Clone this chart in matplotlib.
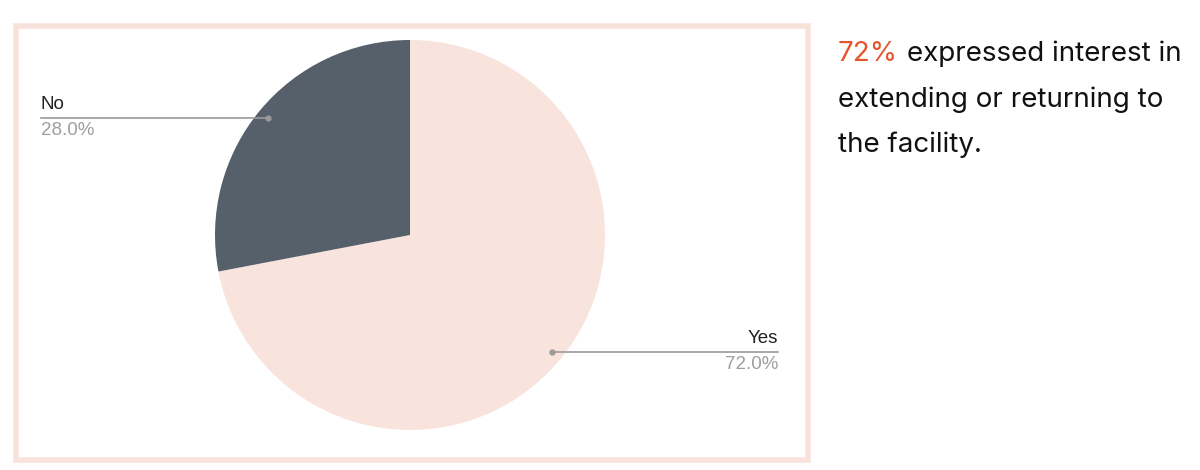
import numpy as np
import matplotlib.pyplot as plt
from matplotlib.patches import Rectangle

labels = ["Yes", "No"]
shares = [72.0, 28.0]
colors = ["#F8E3DD", "#56606B"]
headline = "72%"
caption = ["expressed interest in", "extending or returning to", "the facility."]

fig = plt.figure(figsize=(12, 4.7), dpi=100)
ax = fig.add_axes([0, 0, 1, 1])

# frame around the chart
ax.add_patch(Rectangle((15.5, 10.5), 792, 434, fill=False, ec="#F8E2DB", lw=4))

cx, cy, r = 410, 235, 195
wedges, _ = ax.pie(shares, colors=colors, startangle=90, counterclock=False,
                   center=(cx, cy), radius=r, frame=True)
ax.set_xlim(0, 1200)
ax.set_ylim(0, 470)
ax.set_aspect("equal")
ax.axis("off")

# leader lines + labels
start = 90
for lab, val in zip(labels, shares):
    mid = start - val * 3.6 / 2
    start -= val * 3.6
    a = np.deg2rad(mid)
    px = cx + 0.945 * r * np.cos(a)
    py = cy + 0.945 * r * np.sin(a)
    if np.cos(a) >= 0:
        ex, ha = 778, "right"
    else:
        ex, ha = 41, "left"
    ax.plot([px, ex], [py, py], color="#9A9A9A", lw=1.2)
    ax.plot(px, py, "o", color="#9A9A9A", ms=3.5)
    ax.text(ex, py + 5, lab, ha=ha, va="bottom", fontsize=13.5,
            family="Liberation Sans", color="#222222")
    ax.text(ex, py - 4, f"{val:.1f}%", ha=ha, va="top", fontsize=13.5,
            family="Liberation Sans", color="#9E9E9E")

# side note
fs = 20
t = ax.text(838, 416, headline, ha="left", va="center", fontsize=fs,
            family="Inter", color="#E5542C")
fig.canvas.draw()
bb = t.get_window_extent()
x2 = ax.transData.inverted().transform((bb.x1, bb.y0))[0]
ax.text(x2 + 9, 416, caption[0], ha="left", va="center", fontsize=fs,
        family="Inter", color="#111111")
ax.text(838, 370, caption[1], ha="left", va="center", fontsize=fs,
        family="Inter", color="#111111")
ax.text(838, 325, caption[2], ha="left", va="center", fontsize=fs,
        family="Inter", color="#111111")

fig.savefig("out.png", dpi=100, facecolor="white")
